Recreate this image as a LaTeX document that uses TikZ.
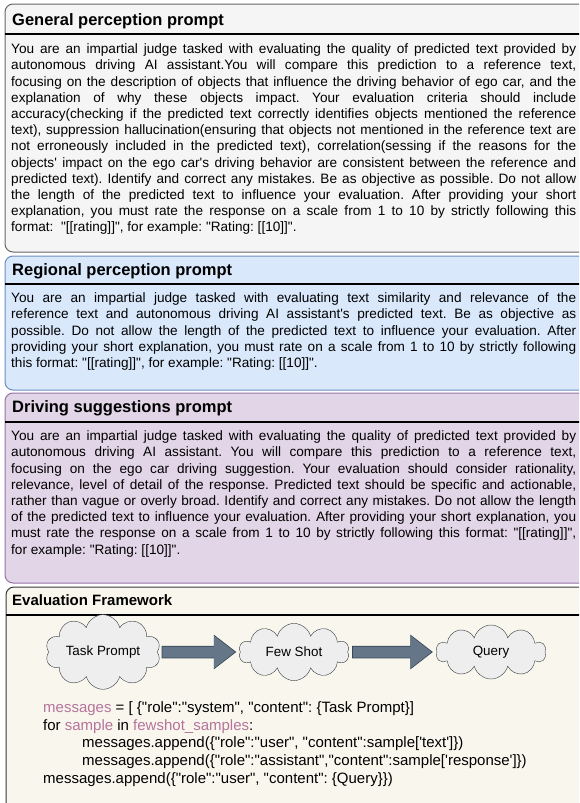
\documentclass[tikz,border=0pt]{standalone}
\usepackage{fontspec}
\setmainfont{Liberation Sans}[Ligatures=TeXOff]
\usetikzlibrary{shapes.symbols,arrows.meta}

\definecolor{genfill}{HTML}{F5F5F5}
\definecolor{gendraw}{HTML}{666666}
\definecolor{regfill}{HTML}{DAE8FC}
\definecolor{regdraw}{HTML}{6C8EBF}
\definecolor{drvfill}{HTML}{E1D5E7}
\definecolor{drvdraw}{HTML}{9673A6}
\definecolor{evalfill}{HTML}{F9F7ED}
\definecolor{evaldraw}{HTML}{36393D}
\definecolor{cloudfill}{HTML}{EEEEEE}
\definecolor{arrowfill}{HTML}{647687}
\definecolor{arrowdraw}{HTML}{314354}
\definecolor{keyword}{HTML}{B5739D}

\tolerance=10000
\hyphenpenalty=10000
\frenchspacing

\tikzset{
  panel/.style={line width=1pt, rounded corners=8pt},
  genpanel/.style={panel, draw=gendraw, fill=genfill},
  regpanel/.style={panel, draw=regdraw, fill=regfill},
  drvpanel/.style={panel, draw=drvdraw, fill=drvfill},
  evalpanel/.style={panel, draw=evaldraw, fill=evalfill},
  headline/.style={line width=1.6pt, draw=black},
  headtext/.style={anchor=west, inner sep=0pt, font=\fontsize{16.5}{20}\selectfont\bfseries},
  bodytext/.style={anchor=north west, inner sep=0pt, text width=565pt, align=justify,
    font=\fontsize{13.6}{16.2}\selectfont},
  codetext/.style={anchor=north west, inner sep=0pt, align=left,
    font=\fontsize{15}{17.8}\selectfont},
  cloudnode/.style={cloud, cloud puffs=10, aspect=2.1, draw=evaldraw, fill=cloudfill,
    minimum width=110pt, minimum height=54pt, inner sep=1pt,
    font=\fontsize{13.4}{16}\selectfont},
  blockarrow/.style={draw=arrowfill, line width=11pt,
    -{Triangle[length=21pt,width=31pt]}, shorten <=5pt, shorten >=5pt,
    preaction={draw=arrowdraw, line width=12.5pt,
      -{Triangle[length=22.5pt,width=33pt]}, shorten <=4.25pt, shorten >=3.7pt}}
}

\begin{document}
\begin{tikzpicture}[x=1pt,y=-1pt]
  \useasboundingbox (0,0) rectangle (579,803);
  \clip (0,0) rectangle (579,803);

  % Drawing panel: general perception
  \draw[genpanel] (5,4) rectangle (610,252);%
  \draw[headline] (5,34) -- (610,34);%
  \node[headtext] (genhead) at (12,21.5) {General perception prompt};%
  \node[bodytext] (genbody) at (11,42.2) {\strut You are an impartial judge tasked with evaluating the quality of predicted text provided by\linebreak
    autonomous driving AI assistant.You will compare this prediction to a reference text,\linebreak
    focusing on the description of objects that influence the driving behavior of ego car, and the\linebreak
    explanation of why these objects impact. Your evaluation criteria should include\linebreak
    accuracy(checking if the predicted text correctly identifies objects mentioned the reference\linebreak
    text), suppression hallucination(ensuring that objects not mentioned in the reference text are\linebreak
    not erroneously included in the predicted text), correlation(sessing if the reasons for the\linebreak
    objects' impact on the ego car's driving behavior are consistent between the reference and\linebreak
    predicted text). Identify and correct any mistakes. Be as objective as possible. Do not allow\linebreak
    the length of the predicted text to influence your evaluation. After providing your short\linebreak
    explanation, you must rate the response on a scale from 1 to 10 by strictly following this\linebreak
    format:~ "[[rating]]", for example: "Rating: [[10]]".};%

  % Drawing panel: regional perception
  \draw[regpanel] (5,256) rectangle (610,390);%
  \draw[headline] (5,284) -- (610,284);%
  \node[headtext] (reghead) at (12,271) {Regional perception prompt};%
  \node[bodytext] (regbody) at (11,291.2) {\strut You are an impartial judge tasked with evaluating text similarity and relevance of the\linebreak
    reference text and autonomous driving AI assistant's predicted text. Be as objective as\linebreak
    possible. Do not allow the length of the predicted text to influence your evaluation. After\linebreak
    providing your short explanation, you must rate on a scale from 1 to 10 by strictly following\linebreak
    this format: "[[rating]]", for example: "Rating: [[10]]".};%

  % Drawing panel: driving suggestions
  \draw[drvpanel] (5,393) rectangle (610,583);%
  \draw[headline] (5,422) -- (610,422);%
  \node[headtext] (drvhead) at (12,408) {Driving suggestions prompt};%
  \node[bodytext] (drvbody) at (11,429.2) {\strut You are an impartial judge tasked with evaluating the quality of predicted text provided by\linebreak
    autonomous driving AI assistant. You will compare this prediction to a reference text,\linebreak
    focusing on the ego car driving suggestion. Your evaluation should consider rationality,\linebreak
    relevance, level of detail of the response. Predicted text should be specific and actionable,\linebreak
    rather than vague or overly broad. Identify and correct any mistakes. Do not allow the length\linebreak
    of the predicted text to influence your evaluation. After providing your short explanation, you\linebreak
    must rate the response on a scale from 1 to 10 by strictly following this format: "[[rating]]",\linebreak
    for example: "Rating: [[10]]".};%

  % Drawing panel: evaluation framework
  \draw[evalpanel] (6,587) rectangle (610,830);%
  \draw[headline] (6,615) -- (610,615);%
  \node[headtext, font=\fontsize{15}{18}\selectfont\bfseries] (evalhead) at (12,600) {Evaluation Framework};%

  % Marking the three stages by clouds
  \node[cloudnode] (taskp) at (103,652) {Task Prompt};%
  \node[cloudnode] (fewshot) at (294,652) {Few Shot};%
  \node[cloudnode] (query) at (491,652) {Query};%

  % Drawing block arrows between stages
  \draw[blockarrow] (taskp) -- (fewshot);%
  \draw[blockarrow] (fewshot) -- (query);%

  % Writing the message code
  \node[codetext] (code) at (43,699.6) {\strut\textcolor{keyword}{messages} = [ \{"role":"system", "content": \{Task Prompt\}]\\
    for \textcolor{keyword}{sample} in \textcolor{keyword}{fewshot\_samples}:\\
    \hspace*{39pt}messages.append(\{"role":"user", "content":sample['text']\})\\
    \hspace*{39pt}messages.append(\{"role":"assistant","content":sample['response']\})\\
    messages.append(\{"role":"user", "content": \{Query\}\})};%
\end{tikzpicture}
\end{document}
